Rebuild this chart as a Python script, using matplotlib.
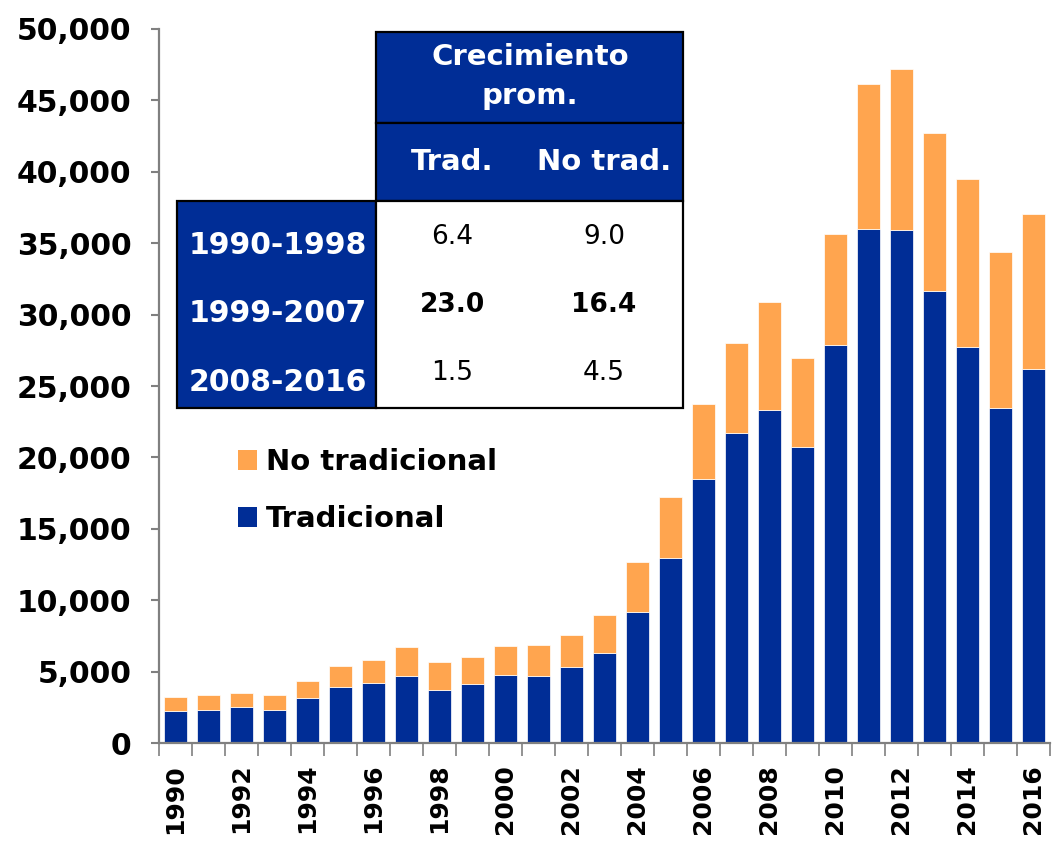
import numpy as np
import matplotlib
matplotlib.use("Agg")
import matplotlib.pyplot as plt
from matplotlib.patches import Rectangle, Patch

# data
years = list(range(1990, 2017))
tradicional = [2220, 2330, 2540, 2290, 3130, 3940, 4180, 4670, 3680, 4130,
               4760, 4690, 5320, 6320, 9200, 12960, 18470, 21680, 23290, 20750,
               27900, 35970, 35940, 31640, 27740, 23450, 26200]
total = [3220, 3340, 3500, 3340, 4340, 5390, 5790, 6720, 5660, 6000,
         6810, 6880, 7580, 8960, 12680, 17230, 23750, 28020, 30900, 26970,
         35630, 46180, 47200, 42710, 39470, 34390, 37020]
no_tradicional = [t - a for t, a in zip(total, tradicional)]

periods = ["1990-1998", "1999-2007", "2008-2016"]
growth_trad = ["6.4", "23.0", "1.5"]
growth_notrad = ["9.0", "16.4", "4.5"]
bold_row = [False, True, False]

BLUE = "#002D96"
ORANGE = "#FFA54F"
GREY = "#808080"
W, H = 1054, 846

plt.rcParams["font.family"] = ["DejaVu Sans"]
fig = plt.figure(figsize=(W / 100, H / 100), dpi=100)
ax = fig.add_axes([159 / W, 1 - 743 / H, 891 / W, 714 / H])

x = np.arange(len(years))
ax.bar(x, tradicional, width=0.67, color=BLUE, edgecolor="white", linewidth=0.5)
ax.bar(x, no_tradicional, bottom=tradicional, width=0.67, color=ORANGE,
       edgecolor="white", linewidth=0.5)

ax.set_xlim(-0.5, len(years) - 0.5)
ax.set_ylim(0, 50000)
ax.set_yticks(range(0, 50001, 5000))
ax.set_yticklabels([f"{v:,}" for v in range(0, 50001, 5000)],
                   fontsize=21.5, fontweight="bold")
ax.set_xticks(x[::2])
ax.set_xticklabels([str(y) for y in years[::2]], rotation=90,
                   fontsize=18, fontweight="bold")
ax.set_xticks(np.arange(-0.5, len(years), 1), minor=True)
ax.tick_params(axis="x", which="major", length=0, pad=15)
ax.tick_params(axis="x", which="minor", length=9, width=1.2, color=GREY)
ax.tick_params(axis="y", length=6, width=1.5, color=GREY, pad=14)

for s in ["top", "right"]:
    ax.spines[s].set_visible(False)
for s in ["left", "bottom"]:
    ax.spines[s].set_color(GREY)
    ax.spines[s].set_linewidth(1.6)

# legend
handles = [Patch(facecolor=ORANGE, label="No tradicional"),
           Patch(facecolor=BLUE, label="Tradicional")]
ax.legend(handles=handles, loc="upper left",
          bbox_to_anchor=(212 / W, 1 - 422 / H), bbox_transform=fig.transFigure,
          frameon=False, handlelength=0.65, handleheight=0.65, handletextpad=0.3,
          labelspacing=1.0, prop={"size": 21, "weight": "bold"})


# table drawn in pixel positions of the figure
def fx(px):
    return px / W


def fy(py):
    return 1 - py / H


def box(x0, y0, x1, y1, face):
    fig.patches.append(Rectangle((fx(x0), fy(y1)), fx(x1) - fx(x0), fy(y0) - fy(y1),
                                 transform=fig.transFigure, facecolor=face,
                                 edgecolor="black", linewidth=1.6, zorder=5))


box(376, 32, 683, 123, BLUE)
box(376, 123, 683, 201, BLUE)
box(177, 201, 376, 408, BLUE)
box(376, 201, 683, 408, "white")

hdr = dict(color="white", fontsize=21, fontweight="bold", ha="center",
           va="center", zorder=6)
fig.text(fx(530), fy(57), "Crecimiento", **hdr)
fig.text(fx(530), fy(96), "prom.", **hdr)
fig.text(fx(452), fy(162), "Trad.", **hdr)
fig.text(fx(604), fy(162), "No trad.", **hdr)

label_y = [245, 313, 382]
value_y = [237, 305, 373]
for i, p in enumerate(periods):
    fig.text(fx(367), fy(label_y[i]), p, color="white", fontsize=21.5,
             fontweight="bold", ha="right", va="center", zorder=6)
    w = "bold" if bold_row[i] else "normal"
    fig.text(fx(452), fy(value_y[i]), growth_trad[i], color="black",
             fontsize=19, fontweight=w, ha="center", va="center", zorder=6)
    fig.text(fx(604), fy(value_y[i]), growth_notrad[i], color="black",
             fontsize=19, fontweight=w, ha="center", va="center", zorder=6)

fig.savefig("out.png", dpi=100)
